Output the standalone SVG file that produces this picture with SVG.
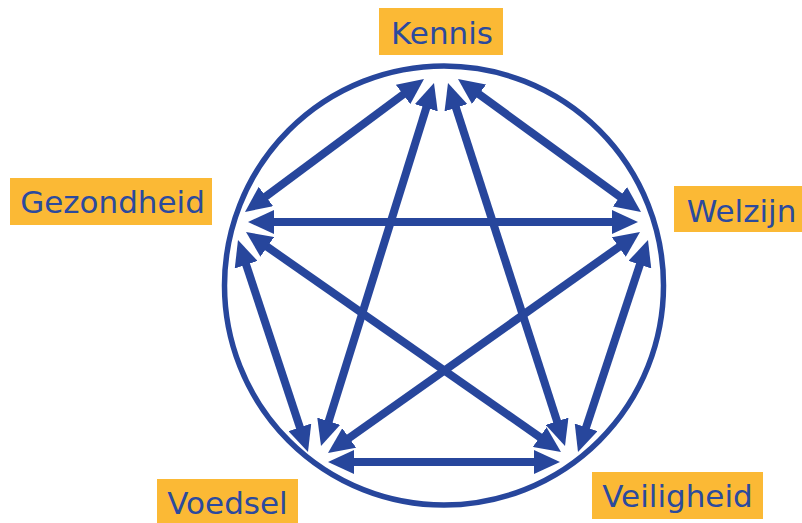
<svg xmlns="http://www.w3.org/2000/svg" width="802" height="523" viewBox="0 0 802 523">
<style>
.lbl{fill:#FBB935}
.txt{font-family:"DejaVu Sans","Verdana",sans-serif;font-size:31px;fill:#2B4A9E;text-anchor:middle}
.arr{stroke:#27469C;stroke-width:8;fill:none;marker-start:url(#ah);marker-end:url(#ah)}
.ring{stroke:#27469C;stroke-width:5.5;fill:none}
</style>
<defs>
<marker id="ah" markerWidth="26" markerHeight="24" refX="14" refY="12" orient="auto-start-reverse" markerUnits="userSpaceOnUse">
<path d="M0,0 L26,12 L0,24 z" fill="#27469C"/>
</marker>
</defs>
<circle class="ring" cx="444" cy="285.5" r="219.5"/>
<g id="connectors">
<line class="arr" x1="414.37" y1="86.16" x2="254.63" y2="204.84"/>
<line class="arr" x1="467.71" y1="86.06" x2="631.29" y2="204.94"/>
<line class="arr" x1="430.43" y1="94.46" x2="324.57" y2="434.54"/>
<line class="arr" x1="451.68" y1="94.42" x2="561.32" y2="434.58"/>
<line class="arr" x1="260" y1="222" x2="626" y2="222"/>
<line class="arr" x1="255.84" y1="238.87" x2="551.16" y2="445.13"/>
<line class="arr" x1="241.76" y1="251.39" x2="304.24" y2="440.61"/>
<line class="arr" x1="630.21" y1="238.94" x2="337.79" y2="446.06"/>
<line class="arr" x1="644.24" y1="251.39" x2="581.76" y2="440.61"/>
<line class="arr" x1="340" y1="462" x2="548" y2="462"/>
</g>
<g id="kennis">
<rect class="lbl" x="379" y="8" width="124" height="47"/>
<text class="txt" x="442" y="44">Kennis</text>
</g>
<g id="gezondheid">
<rect class="lbl" x="10" y="178" width="202" height="47"/>
<text class="txt" x="112.5" y="213">Gezondheid</text>
</g>
<g id="welzijn">
<rect class="lbl" x="674" y="186" width="128" height="46"/>
<text class="txt" x="741.5" y="222">Welzijn</text>
</g>
<g id="voedsel">
<rect class="lbl" x="157" y="479" width="141" height="44"/>
<text class="txt" x="227.5" y="514">Voedsel</text>
</g>
<g id="veiligheid">
<rect class="lbl" x="592" y="472" width="171" height="47"/>
<text class="txt" x="677.5" y="507">Veiligheid</text>
</g>
</svg>
